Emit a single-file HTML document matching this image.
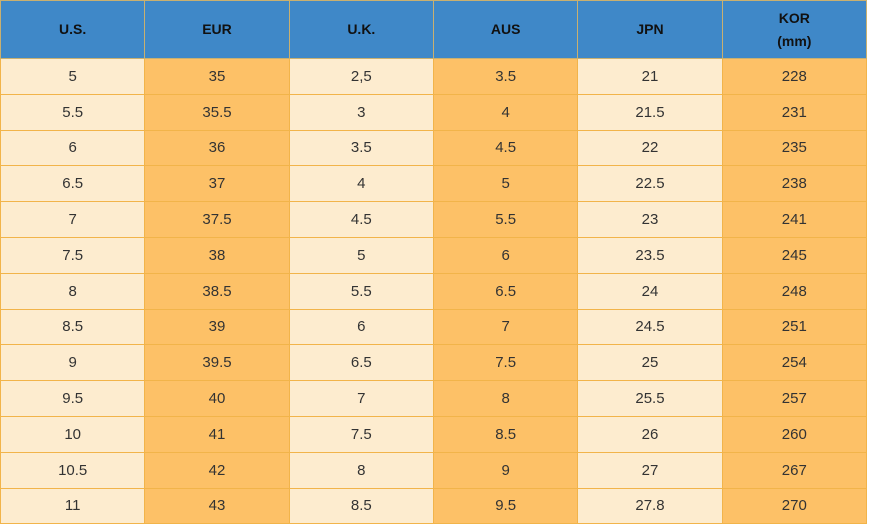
<!DOCTYPE html>
<html><head><style>
body{margin:0;background:#fff;width:869px;height:527px;overflow:hidden}
table{position:absolute;left:0;top:0;border-collapse:collapse;table-layout:fixed;width:867px;font-family:"Liberation Sans",sans-serif;font-size:15px;color:#333}
td,th{border:1px solid #f2b44a;text-align:center;padding:0}
th{background:#3f88c8;height:57px;font-weight:bold;color:#111;font-size:14px;line-height:23px;border-color:#c9b070}
td{height:34.8px}
td:nth-child(odd){background:#fdeccf}
td:nth-child(even){background:#fdc167}
</style></head><body>
<table>
<tr><th>U.S.</th><th>EUR</th><th>U.K.</th><th>AUS</th><th>JPN</th><th>KOR<br>(mm)</th></tr>
<tr><td>5</td><td>35</td><td>2,5</td><td>3.5</td><td>21</td><td>228</td></tr>
<tr><td>5.5</td><td>35.5</td><td>3</td><td>4</td><td>21.5</td><td>231</td></tr>
<tr><td>6</td><td>36</td><td>3.5</td><td>4.5</td><td>22</td><td>235</td></tr>
<tr><td>6.5</td><td>37</td><td>4</td><td>5</td><td>22.5</td><td>238</td></tr>
<tr><td>7</td><td>37.5</td><td>4.5</td><td>5.5</td><td>23</td><td>241</td></tr>
<tr><td>7.5</td><td>38</td><td>5</td><td>6</td><td>23.5</td><td>245</td></tr>
<tr><td>8</td><td>38.5</td><td>5.5</td><td>6.5</td><td>24</td><td>248</td></tr>
<tr><td>8.5</td><td>39</td><td>6</td><td>7</td><td>24.5</td><td>251</td></tr>
<tr><td>9</td><td>39.5</td><td>6.5</td><td>7.5</td><td>25</td><td>254</td></tr>
<tr><td>9.5</td><td>40</td><td>7</td><td>8</td><td>25.5</td><td>257</td></tr>
<tr><td>10</td><td>41</td><td>7.5</td><td>8.5</td><td>26</td><td>260</td></tr>
<tr><td>10.5</td><td>42</td><td>8</td><td>9</td><td>27</td><td>267</td></tr>
<tr><td>11</td><td>43</td><td>8.5</td><td>9.5</td><td>27.8</td><td>270</td></tr>
</table>
</body></html>
